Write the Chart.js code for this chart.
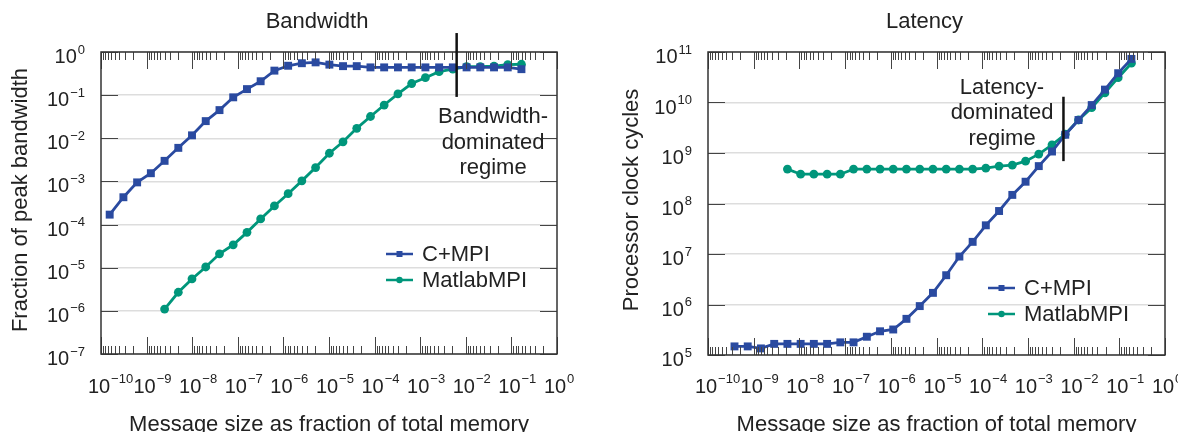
<!DOCTYPE html>
<html>
<head>
<meta charset="utf-8">
<script src="https://cdn.jsdelivr.net/npm/chart.js@4/dist/chart.umd.min.js"></script>
<style>
  body { margin: 0; background: #fff; }
  #wrap { position: relative; width: 1178px; height: 432px; }
  canvas { position: absolute; top: 0; }
</style>
</head>
<body>
<div id="wrap">
  <canvas id="bw" width="589" height="432" style="left:0"></canvas>
  <canvas id="lat" width="589" height="432" style="left:589px"></canvas>
</div>
<script>
// message sizes (fraction of total memory)
var bwSize = [1.55e-10, 3.1e-10, 6.2e-10, 1.24e-9, 2.48e-9, 4.96e-9, 9.9e-9, 1.98e-8, 3.97e-8, 7.93e-8,
    1.59e-7, 3.17e-7, 6.35e-7, 1.27e-6, 2.54e-6, 5.08e-6, 1.02e-5, 2.03e-5, 4.06e-5, 8.12e-5,
    1.62e-4, 3.25e-4, 6.5e-4, 1.3e-3, 2.6e-3, 5.2e-3, 1.04e-2, 2.08e-2, 4.16e-2, 8.32e-2, 0.166];
var latSize = [3.8e-10, 7.4e-10, 1.44e-9, 2.81e-9, 5.47e-9, 1.065e-8, 2.07e-8, 4.04e-8, 7.87e-8, 1.53e-7,
    2.99e-7, 5.81e-7, 1.13e-6, 2.2e-6, 4.3e-6, 8.36e-6, 1.63e-5, 3.17e-5, 6.18e-5, 1.2e-4,
    2.34e-4, 4.56e-4, 8.89e-4, 1.73e-3, 3.37e-3, 6.57e-3, 1.28e-2, 2.49e-2, 4.85e-2, 9.45e-2, 0.184];

// bandwidth (fraction of peak)
var bwCmpi = [1.7e-4, 4.3e-4, 9.5e-4, 1.55e-3, 3.0e-3, 6.0e-3, 1.17e-2, 2.5e-2, 4.5e-2, 8.9e-2,
    0.138, 0.21, 0.37, 0.48, 0.55, 0.575, 0.51, 0.47, 0.47, 0.44,
    0.44, 0.44, 0.44, 0.44, 0.44, 0.44, 0.44, 0.44, 0.44, 0.44, 0.40];
var bwMatlab = [null, null, null, null, 1.1e-6, 2.7e-6, 5.5e-6, 1.04e-5, 2.1e-5, 3.4e-5,
    6.6e-5, 1.35e-4, 2.7e-4, 5.2e-4, 1.03e-3, 2.1e-3, 4.5e-3, 8.3e-3, 1.7e-2, 3.2e-2,
    5.9e-2, 0.107, 0.186, 0.254, 0.35, 0.40, 0.46, 0.46, 0.47, 0.51, 0.52];

// latency (processor clock cycles)
var latCmpi = [1.48e5, 1.48e5, 1.35e5, 1.66e5, 1.66e5, 1.66e5, 1.66e5, 1.66e5, 1.78e5, 1.78e5,
    2.3e5, 2.95e5, 3.2e5, 5.2e5, 9.3e5, 1.7e6, 3.8e6, 8.9e6, 1.74e7, 3.7e7,
    7.1e7, 1.48e8, 2.7e8, 5.5e8, 1.07e9, 2.3e9, 4.5e9, 8.9e9, 1.8e10, 3.8e10, 7.3e10];
var latMatlab = [null, null, null, null, 4.8e8, 3.8e8, 3.8e8, 3.8e8, 3.8e8, 4.8e8,
    4.8e8, 4.8e8, 4.8e8, 4.8e8, 4.8e8, 4.8e8, 4.8e8, 4.8e8, 4.8e8, 5.0e8,
    5.5e8, 5.75e8, 6.9e8, 9.5e8, 1.45e9, 2.35e9, 4.5e9, 7.9e9, 1.55e10, 3.1e10, 6.0e10];

// decade exponents used for ticks and labels
var xTickExp = [-10, -9, -8, -7, -6, -5, -4, -3, -2, -1, 0];
var bwTickExp = [-7, -6, -5, -4, -3, -2, -1, 0];
var latTickExp = [5, 6, 7, 8, 9, 10, 11];

var FONT = '"Liberation Sans", Arial, sans-serif';
var INK = '#222';
var BLUE = '#2a4aa0';
var GREEN = '#00967b';

function points(xs, ys) {
    var out = [];
    for (var i = 0; i < xs.length; i++) {
        if (ys[i] != null) out.push({ x: xs[i], y: ys[i] });
    }
    return out;
}

function drawPower(ctx, e, x, baseY, supY, align) {
    var b = '10', s = e < 0 ? '\u2212' + (-e) : String(e);
    ctx.font = '20px ' + FONT;
    var wb = ctx.measureText(b).width;
    ctx.font = '13px ' + FONT;
    var ws = ctx.measureText(s).width;
    var x0 = align === 'right' ? x - wb - ws - 1 : x - wb / 2 - 2;
    ctx.textAlign = 'left';
    ctx.textBaseline = 'alphabetic';
    ctx.font = '20px ' + FONT;
    ctx.fillText(b, x0, baseY);
    ctx.font = '13px ' + FONT;
    ctx.fillText(s, x0 + wb + 1, supY);
}

// ticks, labels, titles, legend and the regime marker
function decoPlugin(d) {
    return {
        id: 'deco',
        afterDraw: function (chart) {
            var ctx = chart.ctx, a = chart.chartArea, xs = chart.scales.x, ys = chart.scales.y;
            ctx.save();

            // log ticks on top and bottom
            ctx.strokeStyle = '#444';
            ctx.lineWidth = 1;
            ctx.beginPath();
            xTickExp.forEach(function (e, k) {
                var px = Math.round(xs.getPixelForValue(Math.pow(10, e))) + 0.5;
                ctx.moveTo(px, a.top); ctx.lineTo(px, a.top + 17);
                ctx.moveTo(px, a.bottom); ctx.lineTo(px, a.bottom - 17);
                if (k < xTickExp.length - 1) {
                    for (var m = 2; m <= 9; m++) {
                        var mx = Math.round(xs.getPixelForValue(Math.pow(10, e + 1) / m)) + 0.5;
                        ctx.moveTo(mx, a.top); ctx.lineTo(mx, a.top + 8);
                        ctx.moveTo(mx, a.bottom); ctx.lineTo(mx, a.bottom - 8);
                    }
                }
            });
            d.yExp.forEach(function (e) {
                var py = Math.round(ys.getPixelForValue(Math.pow(10, e))) + 0.5;
                ctx.moveTo(a.left, py); ctx.lineTo(a.left + 17, py);
                ctx.moveTo(a.right, py); ctx.lineTo(a.right - 17, py);
            });
            ctx.stroke();

            // box
            ctx.strokeStyle = '#333';
            ctx.lineWidth = 1.5;
            ctx.strokeRect(a.left, a.top, a.right - a.left, a.bottom - a.top);

            // regime marker
            var vx = xs.getPixelForValue(d.vline.x);
            ctx.strokeStyle = '#111';
            ctx.lineWidth = 2.5;
            ctx.beginPath();
            ctx.moveTo(vx, ys.getPixelForValue(d.vline.y0));
            ctx.lineTo(vx, ys.getPixelForValue(d.vline.y1));
            ctx.stroke();

            ctx.fillStyle = INK;
            // tick labels
            xTickExp.forEach(function (e) {
                drawPower(ctx, e, xs.getPixelForValue(Math.pow(10, e)), 392.5, 383, 'center');
            });
            d.yExp.forEach(function (e) {
                var py = ys.getPixelForValue(Math.pow(10, e));
                drawPower(ctx, e, a.left - 16, py + 11, py + 1.5, 'right');
            });

            // titles
            ctx.font = '22px ' + FONT;
            ctx.textAlign = 'center';
            ctx.textBaseline = 'alphabetic';
            ctx.fillText(d.title, (a.left + a.right) / 2 - 12, 28);
            ctx.fillText('Message size as fraction of total memory', (a.left + a.right) / 2, 431);
            ctx.save();
            ctx.translate(d.yTitleX, 200);
            ctx.rotate(-Math.PI / 2);
            ctx.fillText(d.yTitle, 0, 0);
            ctx.restore();

            // annotation text
            d.note.lines.forEach(function (t, i) {
                ctx.fillText(t, d.note.x, d.note.y + i * 25.5);
            });

            // legend
            ctx.textAlign = 'left';
            ctx.textBaseline = 'middle';
            chart.data.datasets.forEach(function (ds, i) {
                var ly = d.legend.y + i * 26;
                ctx.strokeStyle = ds.borderColor;
                ctx.lineWidth = 2.5;
                ctx.beginPath();
                ctx.moveTo(d.legend.x, ly);
                ctx.lineTo(d.legend.x + 27, ly);
                ctx.stroke();
                ctx.fillStyle = ds.borderColor;
                if (ds.pointStyle === 'rect') {
                    ctx.fillRect(d.legend.x + 10.5, ly - 3, 6, 6);
                } else {
                    ctx.beginPath();
                    ctx.arc(d.legend.x + 13.5, ly, 3.2, 0, Math.PI * 2);
                    ctx.fill();
                }
                ctx.fillStyle = INK;
                ctx.fillText(ds.label, d.legend.x + 36, ly + 1);
            });
            ctx.restore();
        }
    };
}

function makeChart(id, sizes, cmpi, matlab, yMin, yMax, yExp, pad, d) {
    d.yExp = yExp;
    return new Chart(document.getElementById(id), {
        type: 'line',
        data: {
            datasets: [
                {
                    label: 'C+MPI',
                    data: points(sizes, cmpi),
                    borderColor: BLUE,
                    backgroundColor: BLUE,
                    borderWidth: 2.8,
                    pointStyle: 'rect',
                    pointRadius: 5.6,
                    pointBorderWidth: 0,
                    tension: 0
                },
                {
                    label: 'MatlabMPI',
                    data: points(sizes, matlab),
                    borderColor: GREEN,
                    backgroundColor: GREEN,
                    borderWidth: 2.8,
                    pointStyle: 'circle',
                    pointRadius: 4.4,
                    pointBorderWidth: 0,
                    tension: 0
                }
            ]
        },
        options: {
            responsive: false,
            animation: false,
            events: [],
            layout: { padding: { left: 0, top: 52, right: pad.right, bottom: 0 } },
            plugins: { legend: { display: false }, title: { display: false }, tooltip: { enabled: false } },
            scales: {
                x: {
                    type: 'logarithmic',
                    min: 1e-10,
                    max: 1,
                    grid: { display: false },
                    border: { display: false },
                    ticks: { display: false },
                    afterFit: function (s) { s.height = pad.bottom; }
                },
                y: {
                    type: 'logarithmic',
                    min: yMin,
                    max: yMax,
                    grid: { color: '#dddddd', lineWidth: 1.5, drawTicks: false },
                    border: { display: false },
                    ticks: { display: false },
                    afterBuildTicks: function (s) {
                        s.ticks = yExp.map(function (e) { return { value: Math.pow(10, e) }; });
                    },
                    afterFit: function (s) { s.width = pad.left; }
                }
            }
        },
        plugins: [decoPlugin(d)]
    });
}

makeChart('bw', bwSize, bwCmpi, bwMatlab, 1e-7, 1, bwTickExp,
    { left: 101, right: 32, bottom: 78 },
    {
        title: 'Bandwidth',
        yTitle: 'Fraction of peak bandwidth',
        yTitleX: 27,
        vline: { x: 6.3e-3, y0: 2.75, y1: 0.091 },
        note: { x: 493, y: 123, lines: ['Bandwidth-', 'dominated', 'regime'] },
        legend: { x: 386, y: 254 }
    });

makeChart('lat', latSize, latCmpi, latMatlab, 1e5, 1e11, latTickExp,
    { left: 119, right: 13, bottom: 77 },
    {
        title: 'Latency',
        yTitle: 'Processor clock cycles',
        yTitleX: 49,
        vline: { x: 6.0e-3, y0: 1.3e10, y1: 6.9e8 },
        note: { x: 413, y: 93.5, lines: ['Latency-', 'dominated', 'regime'] },
        legend: { x: 399, y: 288 }
    });
</script>
</body>
</html>
